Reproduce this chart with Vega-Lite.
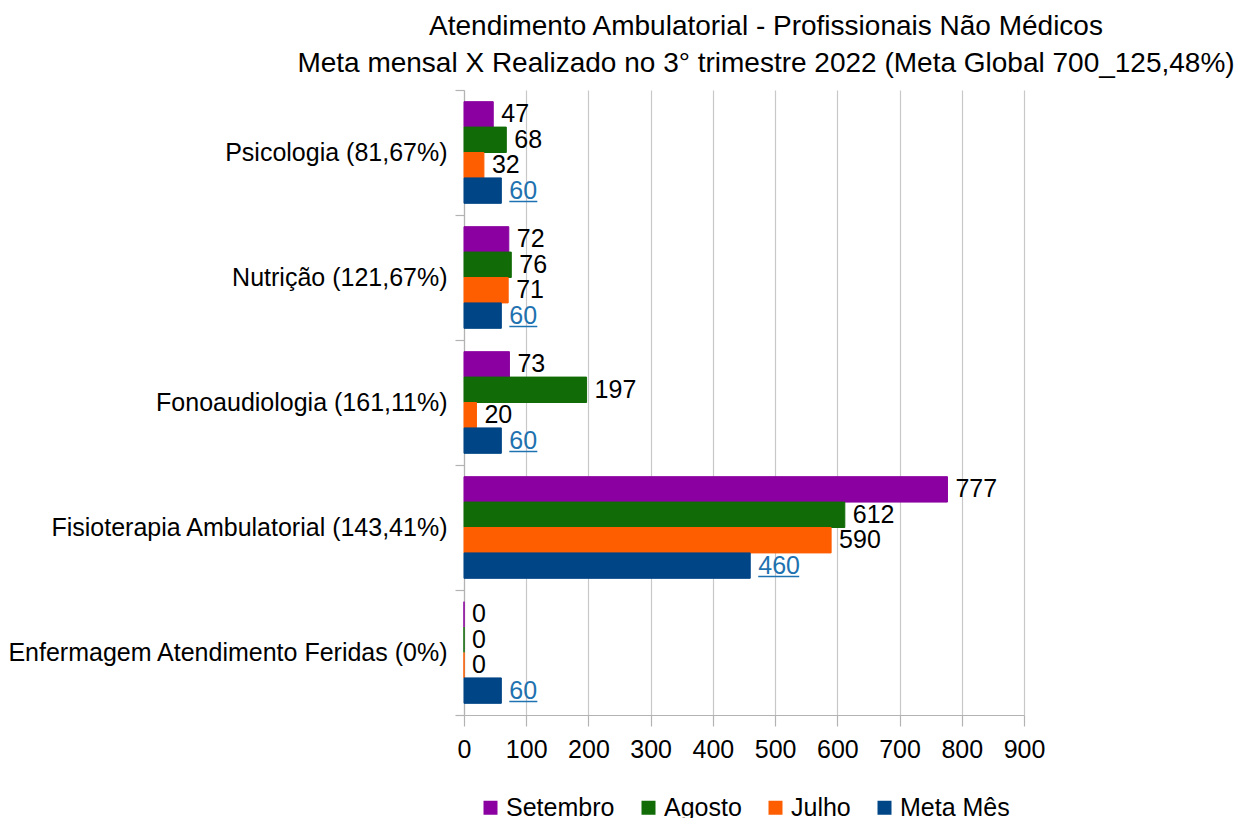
{
  "$schema": "https://vega.github.io/schema/vega-lite/v6.json",
  "width": 560,
  "height": 625,
  "autosize": {"type": "none"},
  "padding": {"left": 464, "top": 90, "right": 212, "bottom": 103},
  "background": "white",
  "config": {
    "font": "Liberation Sans",
    "view": {"stroke": null},
    "axis": {"labelFont": "Liberation Sans", "labelColor": "black", "labelFontSize": 25, "domainColor": "#b3b3b3", "tickColor": "#b3b3b3", "gridColor": "#c8c8c8", "domainWidth": 1.2, "tickWidth": 1.2, "gridWidth": 1.2}
  },
  "title": {
    "text": ["Atendimento Ambulatorial - Profissionais Não Médicos", "Meta mensal X Realizado no 3° trimestre 2022 (Meta Global 700_125,48%)"],
    "anchor": "middle",
    "frame": "group",
    "dx": 22,
    "fontSize": 28,
    "fontWeight": "normal",
    "font": "Liberation Sans",
    "color": "black",
    "lineHeight": 37,
    "offset": 0
  },
  "data": {
    "values": [
      {"categoria": "Psicologia (81,67%)", "serie": "Setembro", "valor": 47},
      {"categoria": "Psicologia (81,67%)", "serie": "Agosto", "valor": 68},
      {"categoria": "Psicologia (81,67%)", "serie": "Julho", "valor": 32},
      {"categoria": "Psicologia (81,67%)", "serie": "Meta Mês", "valor": 60},
      {"categoria": "Nutrição (121,67%)", "serie": "Setembro", "valor": 72},
      {"categoria": "Nutrição (121,67%)", "serie": "Agosto", "valor": 76},
      {"categoria": "Nutrição (121,67%)", "serie": "Julho", "valor": 71},
      {"categoria": "Nutrição (121,67%)", "serie": "Meta Mês", "valor": 60},
      {"categoria": "Fonoaudiologia (161,11%)", "serie": "Setembro", "valor": 73},
      {"categoria": "Fonoaudiologia (161,11%)", "serie": "Agosto", "valor": 197},
      {"categoria": "Fonoaudiologia (161,11%)", "serie": "Julho", "valor": 20},
      {"categoria": "Fonoaudiologia (161,11%)", "serie": "Meta Mês", "valor": 60},
      {"categoria": "Fisioterapia Ambulatorial (143,41%)", "serie": "Setembro", "valor": 777},
      {"categoria": "Fisioterapia Ambulatorial (143,41%)", "serie": "Agosto", "valor": 612},
      {"categoria": "Fisioterapia Ambulatorial (143,41%)", "serie": "Julho", "valor": 590},
      {"categoria": "Fisioterapia Ambulatorial (143,41%)", "serie": "Meta Mês", "valor": 460},
      {"categoria": "Enfermagem Atendimento Feridas (0%)", "serie": "Setembro", "valor": 0},
      {"categoria": "Enfermagem Atendimento Feridas (0%)", "serie": "Agosto", "valor": 0},
      {"categoria": "Enfermagem Atendimento Feridas (0%)", "serie": "Julho", "valor": 0},
      {"categoria": "Enfermagem Atendimento Feridas (0%)", "serie": "Meta Mês", "valor": 60}
    ]
  },
  "encoding": {
    "y": {
      "field": "categoria",
      "type": "nominal",
      "sort": null,
      "title": null,
      "scale": {"paddingInner": 0, "paddingOuter": 0},
      "axis": {"tickBand": "extent", "tickSize": 9, "labelPadding": 8, "labelLimit": 600}
    },
    "x": {
      "field": "valor",
      "type": "quantitative",
      "title": null,
      "scale": {"domain": [0, 900], "nice": false},
      "axis": {"values": [0, 100, 200, 300, 400, 500, 600, 700, 800, 900], "grid": true, "tickSize": 11, "labelPadding": 11, "labelFlush": false}
    }
  },
  "layer": [
    {
      "mark": {"type": "bar", "strokeWidth": 1},
      "encoding": {
        "yOffset": {"field": "serie", "type": "nominal", "sort": ["Setembro", "Agosto", "Julho", "Meta Mês"], "scale": {"paddingInner": 0, "paddingOuter": 0.46}},
        "color": {
          "field": "serie",
          "type": "nominal",
          "sort": ["Setembro", "Agosto", "Julho", "Meta Mês"],
          "scale": {"domain": ["Setembro", "Agosto", "Julho", "Meta Mês"], "range": ["#8b00a0", "#116b06", "#ff5e00", "#004586"]},
          "legend": {
            "orient": "none",
            "direction": "horizontal",
            "legendX": 14,
            "legendY": 705,
            "title": null,
            "symbolType": "square",
            "symbolSize": 196,
            "symbolStrokeWidth": 0,
            "labelFontSize": 25,
            "labelFont": "Liberation Sans",
            "labelColor": "black",
            "labelOffset": 3,
            "columnPadding": 21
          }
        },
        "stroke": {
          "field": "serie",
          "type": "nominal",
          "scale": {"domain": ["Setembro", "Agosto", "Julho", "Meta Mês"], "range": ["#8b00a0", "#116b06", "#ff5e00", "#004586"]},
          "legend": null
        }
      }
    },
    {
      "mark": {"type": "text", "align": "left", "baseline": "middle", "dx": 8, "fontSize": 25, "font": "Liberation Sans"},
      "encoding": {
        "yOffset": {"field": "serie", "type": "nominal", "sort": ["Setembro", "Agosto", "Julho", "Meta Mês"], "scale": {"paddingInner": 0, "paddingOuter": 0.46}},
        "text": {"field": "valor", "type": "quantitative"},
        "color": {"condition": {"test": "datum.serie === 'Meta Mês'", "value": "#1f72b0"}, "value": "black"}
      }
    },
    {
      "transform": [{"filter": "datum.serie === 'Meta Mês' && datum.valor < 100"}],
      "mark": {"type": "rule", "color": "#1f72b0", "strokeWidth": 1.5, "xOffset": 8, "x2Offset": 36, "yOffset": 49},
      "encoding": {
        "x2": {"field": "valor"}
      }
    },
    {
      "transform": [{"filter": "datum.serie === 'Meta Mês' && datum.valor >= 100"}],
      "mark": {"type": "rule", "color": "#1f72b0", "strokeWidth": 1.5, "xOffset": 8, "x2Offset": 49, "yOffset": 49},
      "encoding": {
        "x2": {"field": "valor"}
      }
    }
  ]
}
